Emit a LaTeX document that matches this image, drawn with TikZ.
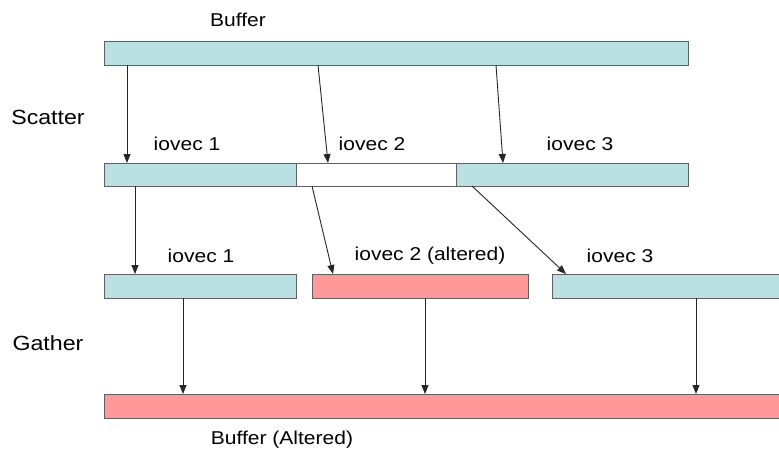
\documentclass[tikz,border=0pt]{standalone}
\usepackage{fontspec}
\setmainfont[FakeStretch=1.13]{Liberation Sans}
\usetikzlibrary{arrows.meta}
\definecolor{barcyan}{HTML}{B9E0E3}
\definecolor{barpink}{HTML}{FF9999}
\definecolor{barline}{HTML}{606060}
\tikzset{
  bar/.style={draw=barline, line width=1pt, inner sep=0pt, outer sep=0pt, anchor=north west, minimum height=24pt},
  lbl/.style={inner sep=0pt, font=\fontsize{18.6}{20}\selectfont},
  biglbl/.style={inner sep=0pt, font=\fontsize{20.5}{22}\selectfont},
  arr/.style={line width=0.9pt, draw=black!85, -{Triangle[length=9pt,width=7pt]}},
}
\begin{document}
\begin{tikzpicture}[x=1pt,y=-1pt]
\path[use as bounding box, clip] (0,0) rectangle (779,458);
\fill[white] (0,0) rectangle (779,458);
% bars
\node[bar, fill=barcyan, minimum width=584pt] (buf) at (104,41) {};
\node[bar, fill=barcyan, minimum width=192pt, minimum height=23pt] (s1) at (104,163) {};
\node[bar, fill=white, minimum width=160pt, minimum height=23pt] (s2) at (296,163) {};
\node[bar, fill=barcyan, minimum width=232pt, minimum height=23pt] (s3) at (456,163) {};
\node[bar, fill=barcyan, minimum width=192pt] (g1) at (104,274) {};
\node[bar, fill=barpink, minimum width=216pt] (g2) at (312,274) {};
\node[bar, fill=barcyan, minimum width=260pt] (g3) at (552,274) {};
\node[bar, fill=barpink, minimum width=720pt] (out) at (104,394) {};
% labels
\node[lbl] (tbuf) at (238,20) {Buffer};
\node[biglbl] (tscatter) at (48,117) {Scatter};
\node[biglbl] (tgather) at (48,343) {Gather};
\node[lbl] (ts1) at (187,144) {iovec 1};
\node[lbl] (ts2) at (372,144) {iovec 2};
\node[lbl] (ts3) at (580,144) {iovec 3};
\node[lbl] (tg1) at (201,256) {iovec 1};
\node[lbl] (tg2) at (430,256) {iovec 2 (altered)};
\node[lbl] (tg3) at (620,256) {iovec 3};
\node[lbl] (tout) at (282,440) {Buffer (Altered)};
% scatter arrows
\draw[arr] ([xshift=23pt]buf.south west) -- ([xshift=23pt]s1.north west);
\draw[arr] ([xshift=214pt]buf.south west) -- ([xshift=32pt]s2.north west);
\draw[arr] ([xshift=392pt]buf.south west) -- ([xshift=47pt]s3.north west);
% regroup arrows
\draw[arr] ([xshift=31pt]s1.south west) -- ([xshift=31pt]g1.north west);
\draw[arr] ([xshift=16pt]s2.south west) -- ([xshift=21pt]g2.north west);
\draw[arr] ([xshift=16pt]s3.south west) -- ([xshift=14pt]g3.north west);
% gather arrows
\draw[arr] ([xshift=79pt]g1.south west) -- ([xshift=79pt]out.north west);
\draw[arr] ([xshift=113pt]g2.south west) -- ([xshift=321pt]out.north west);
\draw[arr] ([xshift=144pt]g3.south west) -- ([xshift=592pt]out.north west);
\end{tikzpicture}
\end{document}
